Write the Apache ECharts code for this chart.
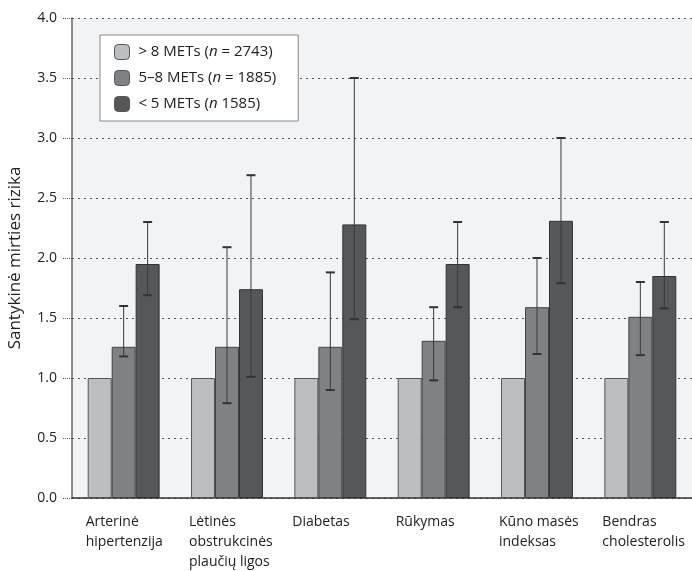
<!DOCTYPE html>
<html>
<head>
<meta charset="utf-8">
<script src="https://cdn.jsdelivr.net/npm/echarts@6/dist/echarts.min.js"></script>
<style>
  html, body { margin: 0; padding: 0; background: #fff; }
  #chart { width: 692px; height: 571px; }
</style>
</head>
<body>
<div id="chart"></div>
<script>
// kategorijos
var categories = [
  'Arterinė\nhipertenzija',
  'Lėtinės\nobstrukcinės\nplaučių ligos',
  'Diabetas',
  'Rūkymas',
  'Kūno masės\nindeksas',
  'Bendras\ncholesterolis'
]
var seriesNames = ['> 8 METs (n = 2743)', '5–8 METs (n = 1885)', '< 5 METs (n 1585)']
var yTicks = [0, 0.5, 1, 1.5, 2, 2.5, 3, 3.5, 4]

// santykinė rizika
var highFit = [1.0, 1.0, 1.0, 1.0, 1.0, 1.0]
var midFit = [1.26, 1.26, 1.26, 1.31, 1.59, 1.51]
var lowFit = [1.95, 1.74, 2.28, 1.95, 2.31, 1.85]

// pasikliautinieji intervalai
var midLower = [1.18, 0.79, 0.90, 0.98, 1.20, 1.19]
var midUpper = [1.60, 2.09, 1.88, 1.59, 2.00, 1.80]
var lowLower = [1.69, 1.01, 1.49, 1.59, 1.79, 1.58]
var lowUpper = [2.30, 2.69, 3.50, 2.30, 3.00, 2.30]

var colors = ['#bdbec2', '#808185', '#565759']
var barFrac = 0.232

function errorSeries (lower, upper, slot) {
  return {
    type: 'custom',
    z: 5,
    data: lower.map(function (v, i) { return [i, v, upper[i]] }),
    renderItem: function (params, api) {
      var bandW = api.size([1, 0])[0]
      var off = slot * bandW * barFrac
      var lo = api.coord([api.value(0), api.value(1)])
      var hi = api.coord([api.value(0), api.value(2)])
      var x = lo[0] + off
      var cap = 4.5
      var style = { stroke: '#3a3a3c', lineWidth: 1 }
      var capStyle = { stroke: '#333335', lineWidth: 2 }
      return {
        type: 'group',
        children: [
          { type: 'line', shape: { x1: x, y1: lo[1], x2: x, y2: hi[1] }, style: style },
          { type: 'line', shape: { x1: x - cap, y1: hi[1], x2: x + cap, y2: hi[1] }, style: capStyle },
          { type: 'line', shape: { x1: x - cap, y1: lo[1], x2: x + cap, y2: lo[1] }, style: capStyle }
        ]
      }
    }
  }
}

function labelFormatter (value) {
  return value.split('\n').map(function (s) { return '{a|' + s + '}' }).join('\n')
}

var chart = echarts.init(document.getElementById('chart'))
var font = '"Open Sans", "Noto Sans", sans-serif'

chart.setOption({
  animation: false,
  backgroundColor: '#fff',
  grid: {
    left: 72,
    right: 0,
    top: 18,
    bottom: 73,
    outerBoundsMode: 'none',
    show: true,
    backgroundColor: '#f2f3f5',
    borderWidth: 0
  },
  legend: {
    orient: 'vertical',
    left: 100,
    top: 35,
    padding: [9, 22, 9, 14],
    itemWidth: 15,
    itemHeight: 15,
    itemGap: 10,
    backgroundColor: '#fff',
    borderColor: '#888',
    borderWidth: 1,
    data: seriesNames,
    itemStyle: { borderColor: '#555', borderWidth: 1 },
    formatter: function (name) {
      return ' ' + name.replace('n', '{i|n}')
    },
    textStyle: {
      fontFamily: font,
      fontSize: 15,
      color: '#222',
      rich: {
        i: { fontFamily: font, fontSize: 15, fontStyle: 'italic', color: '#222' }
      }
    }
  },
  xAxis: {
    type: 'category',
    data: categories,
    axisLine: { lineStyle: { color: '#333', width: 1.5 } },
    axisTick: { show: false },
    axisLabel: {
      margin: 14,
      interval: 0,
      formatter: labelFormatter,
      rich: {
        a: { fontFamily: font, fontSize: 14, color: '#222', width: 76, align: 'left', lineHeight: 20 }
      }
    }
  },
  yAxis: {
    type: 'value',
    min: 0,
    max: 4,
    interval: 0.5,
    name: 'Santykinė mirties rizika',
    nameLocation: 'middle',
    nameGap: 48,
    nameTextStyle: { fontFamily: font, fontSize: 17, color: '#222' },
    axisLine: { show: true, lineStyle: { color: '#666', width: 1.5 } },
    axisTick: { show: true, length: 10, lineStyle: { color: '#555', type: 'dotted' } },
    axisLabel: {
      margin: 15,
      fontFamily: font,
      fontSize: 14,
      color: '#222',
      formatter: function (v) { return yTicks.indexOf(v) >= 0 ? v.toFixed(1) : '' }
    },
    splitLine: { lineStyle: { color: '#555', type: [2, 4], width: 1.2 } }
  },
  series: [
    {
      name: seriesNames[0],
      type: 'bar',
      data: highFit,
      barWidth: (barFrac * 100) + '%',
      barGap: '0%',
      itemStyle: { color: colors[0], borderColor: '#555', borderWidth: 1 }
    },
    {
      name: seriesNames[1],
      type: 'bar',
      data: midFit,
      barWidth: (barFrac * 100) + '%',
      barGap: '0%',
      itemStyle: { color: colors[1], borderColor: '#444', borderWidth: 1 }
    },
    {
      name: seriesNames[2],
      type: 'bar',
      data: lowFit,
      barWidth: (barFrac * 100) + '%',
      barGap: '0%',
      itemStyle: { color: colors[2], borderColor: '#333', borderWidth: 1 }
    },
    errorSeries(midLower, midUpper, 0),
    errorSeries(lowLower, lowUpper, 1)
  ]
})
</script>
</body>
</html>
